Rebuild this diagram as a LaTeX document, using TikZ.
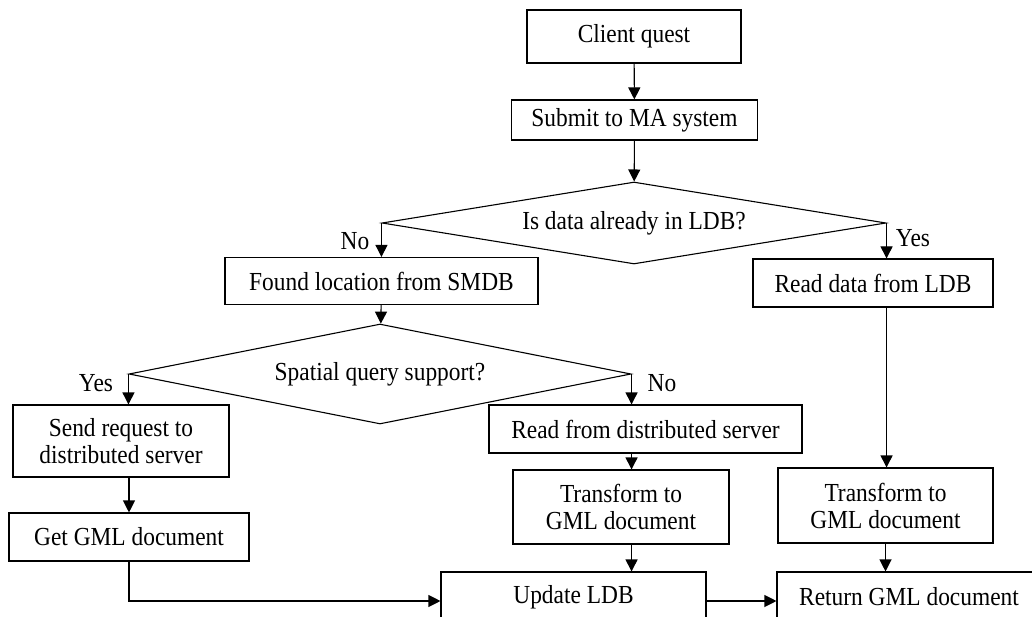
\documentclass[tikz,border=0pt]{standalone}
\usepackage{fontspec}
\setmainfont[FakeStretch=0.9]{Liberation Serif}
\usepackage{tikz}
\usetikzlibrary{shapes,arrows.meta}
\tikzset{box/.style={rectangle,draw,line width=1.1pt,inner sep=0pt,align=center,font=\fontsize{26}{27}\selectfont}}
\tikzset{ask/.style={diamond,draw,line width=1.1pt,inner sep=0pt,aspect=6,font=\fontsize{26}{27}\selectfont}}
\tikzset{lbl/.style={inner sep=0pt,font=\fontsize{26}{27}\selectfont}}

\begin{document}
\begin{tikzpicture}[x=1pt,y=-1pt,>={Triangle[length=12pt,width=12pt]},line width=1.1pt]
    \clip (0,0) rectangle (1032,617);

    \node[box,minimum width=214pt,minimum height=53pt] (cq) at (634,36.5) {Client quest};
    \node[box,minimum width=246pt,minimum height=40pt] (sub) at (634.5,120) {Submit to MA system};
    \node[ask,minimum width=504pt,minimum height=82pt] (d1) at (634,223) {Is data already in LDB?};
    \node[box,minimum width=313pt,minimum height=47pt] (fl) at (381.5,281) {Found location from SMDB};
    \node[box,minimum width=240pt,minimum height=48pt] (rd) at (873,283) {Read data from LDB};
    \node[ask,minimum width=502pt,minimum height=100pt] (d2) at (380,374) {Spatial query support?};
    \node[box,minimum width=216pt,minimum height=72pt] (sr) at (121,441) {Send request to\\distributed server};
    \node[box,minimum width=313pt,minimum height=48pt] (rs) at (645.5,429) {Read from distributed server};
    \node[box,minimum width=240pt,minimum height=48pt] (gg) at (129,537) {Get GML document};
    \node[box,minimum width=216pt,minimum height=74pt] (tm) at (621,507) {Transform to\\GML document};
    \node[box,minimum width=215pt,minimum height=75pt] (tr) at (885.5,505.5) {Transform to\\GML document};
    \node[box,minimum width=265pt,minimum height=50pt] (up) at (573.5,597) {Update LDB};
    \node[box,minimum width=264pt,minimum height=50pt] (rt) at (909,597) {Return GML document};

    \node[lbl] (no1) at (355,241) {No};
    \node[lbl] (yes1) at (913,238) {Yes};
    \node[lbl] (yes2) at (96,383) {Yes};
    \node[lbl] (no2) at (662,383) {No};

    \draw [->] (cq) -- (sub);
    \draw [->] (sub) -- (d1);
    \draw [->] (d1.west) -- (d1.west |- fl.north);
    \draw [->] (d1.east) -- (d1.east |- rd.north);
    \draw [->] (fl) -- (d2);
    \draw [->] (d2.west) -- (d2.west |- sr.north);
    \draw [->] (d2.east) -- (d2.east |- rs.north);
    \draw [->] (sr.south -| gg.north) -- (gg.north);
    \draw [->] (gg.south) |- ([yshift=-4pt]up.west);
    \draw [->] (d2.east |- rs.south) -- (d2.east |- tm.north);
    \draw [->] (d2.east |- tm.south) -- (d2.east |- up.north);
    \draw [->] (d1.east |- rd.south) -- (d1.east |- tr.north);
    \draw [->] (tr.south) -- (tr.south |- rt.north);
    \draw [->] ([yshift=-4pt]up.east) -- ([yshift=-4pt]rt.west);
\end{tikzpicture}
\end{document}
